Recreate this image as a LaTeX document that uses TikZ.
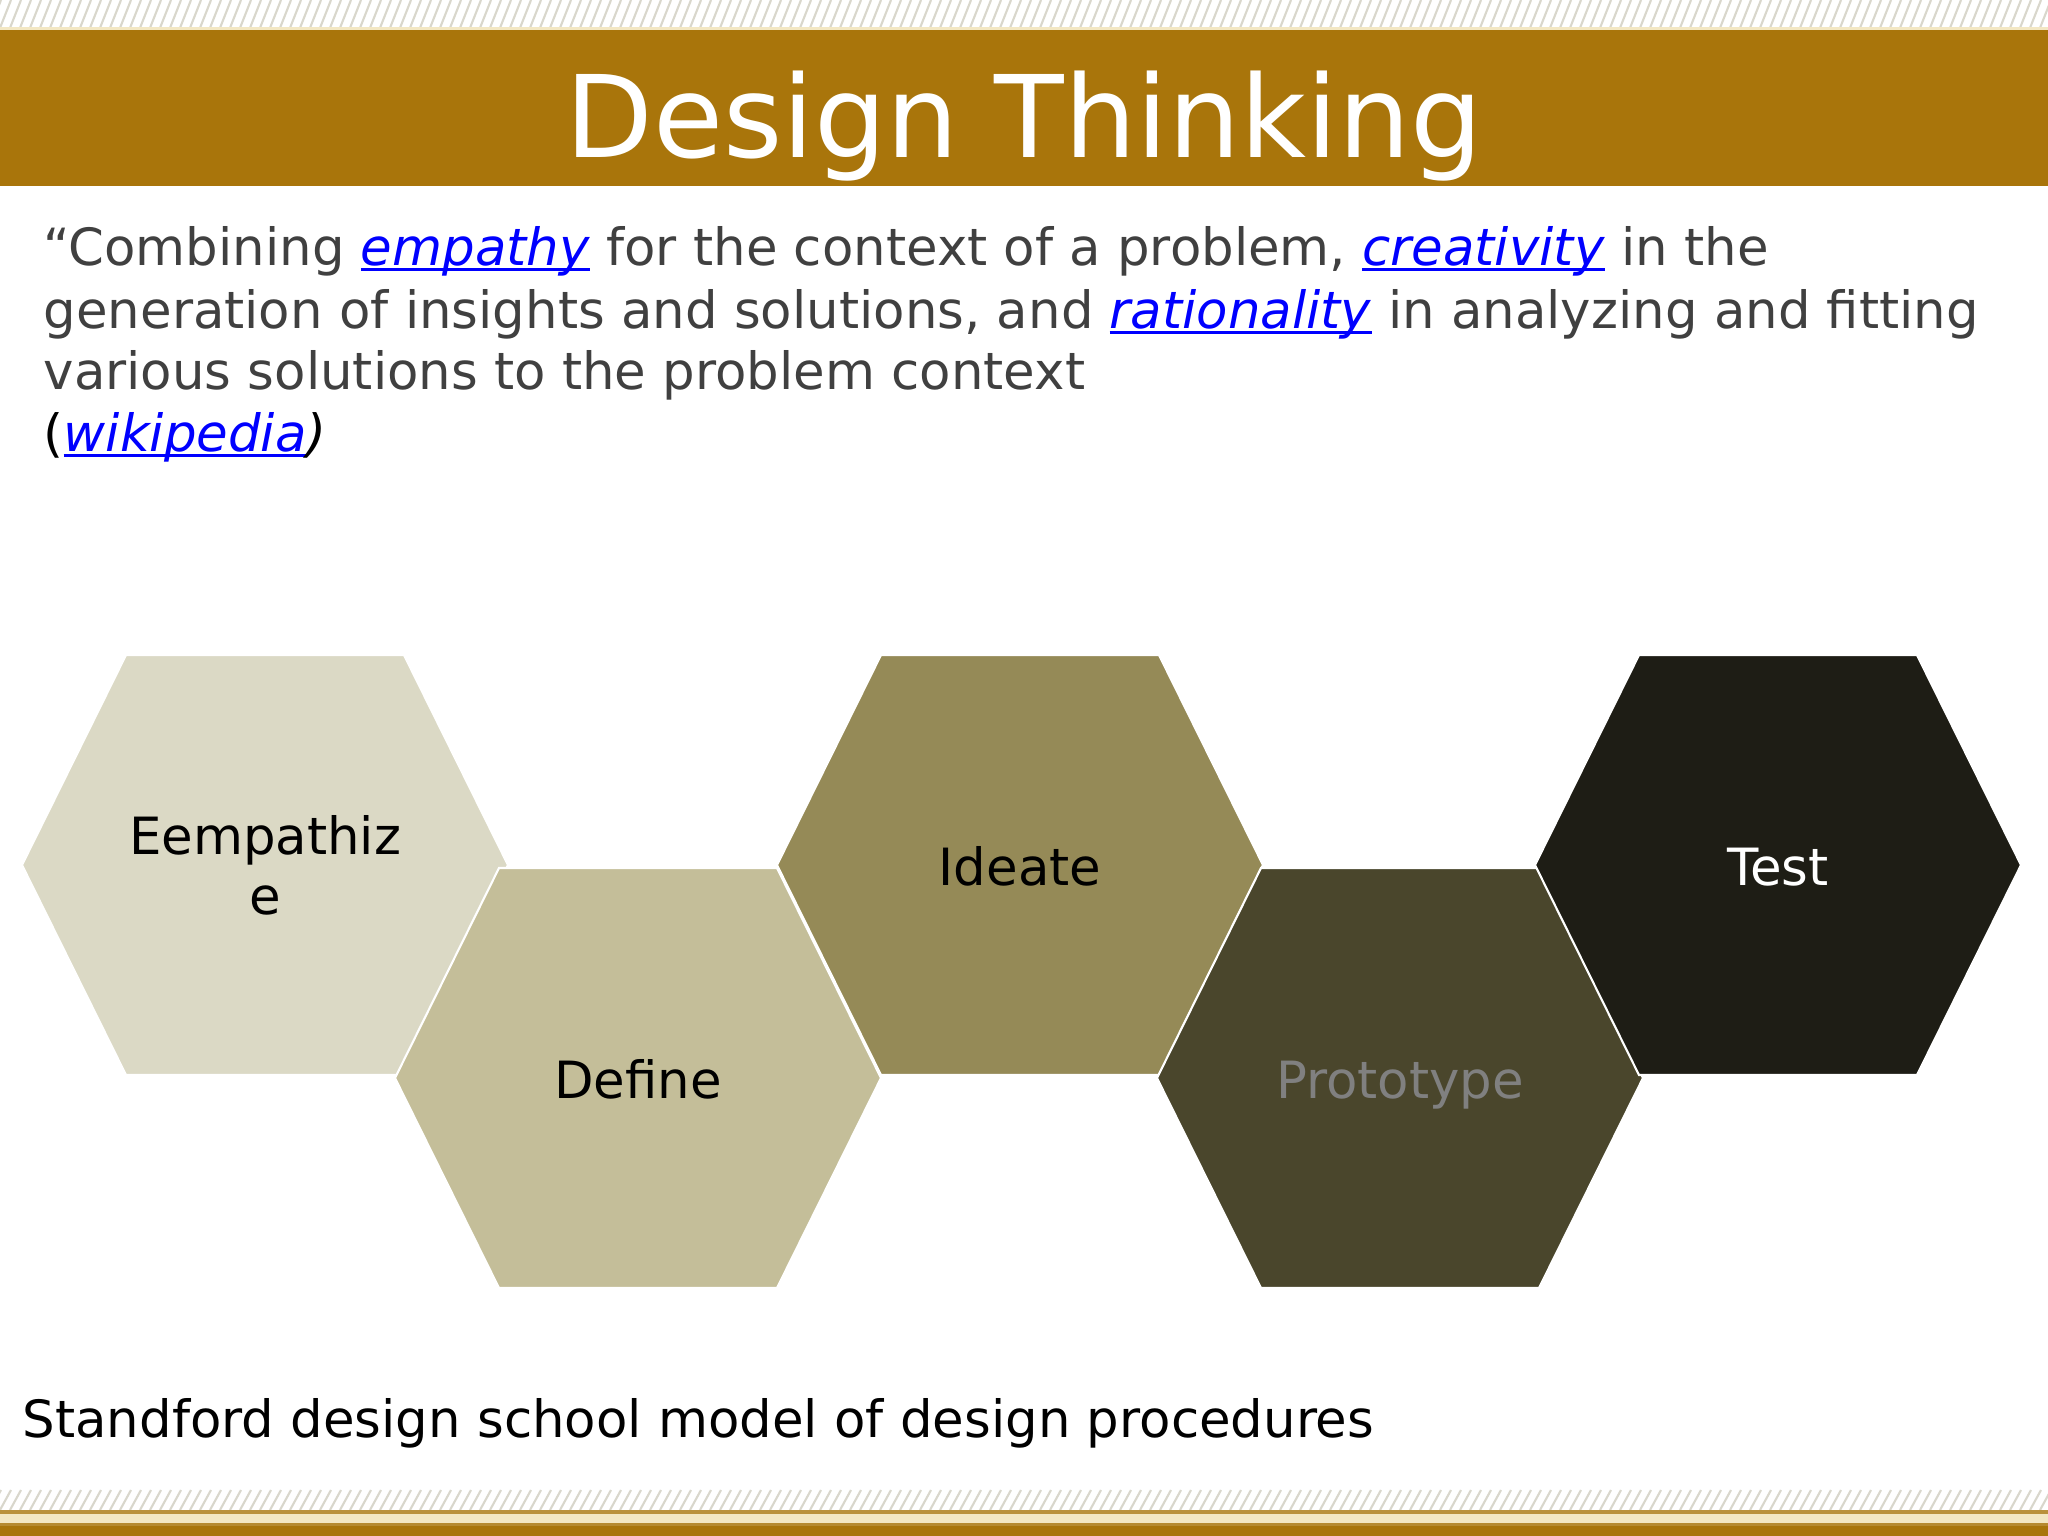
\documentclass[tikz,border=0pt]{standalone}
\usepackage{fontspec}
\setmainfont{DejaVu Sans}
\usetikzlibrary{positioning}

\definecolor{headbrown}{HTML}{A9750B}
\definecolor{hatchgray}{HTML}{D9D7CC}
\definecolor{creamline}{HTML}{F3E7C3}
\definecolor{bodygray}{HTML}{404040}
\definecolor{linkblue}{HTML}{0000FF}
\definecolor{empcol}{HTML}{DBD9C5}
\definecolor{defcol}{HTML}{C4BE99}
\definecolor{idecol}{HTML}{958A57}
\definecolor{procol}{HTML}{4A462C}
\definecolor{tstcol}{HTML}{1E1D15}

\newsavebox{\linkbox}
\newcommand{\wlink}[1]{\textcolor{linkblue}{\sbox{\linkbox}{\textit{#1}}\rlap{\rule[-1.8pt]{\wd\linkbox}{0.9pt}}\usebox{\linkbox}}}

\begin{document}
\begin{tikzpicture}[x=0.01cm, y=-0.01cm,
    hatchline/.style={draw=hatchgray, line width=0.6pt},
    hexa/.style={fill=#1, draw=white, line width=0.6pt},
    bodytext/.style={anchor=base west, inner sep=0pt, text=bodygray, font=\fontsize{14.6}{17}\selectfont},
    hexlabel/.style={anchor=base, inner sep=0pt, font=\fontsize{14.6}{16.8}\selectfont, align=center}]
    \useasboundingbox (0,0) rectangle (2048,1536);
    \fill[white] (0,0) rectangle (2048,1536);

    % top band
    \foreach \i in {-10,0,...,2060}
        \draw[hatchline] (\i,28) -- ++(11,-28);
    \fill[creamline] (0,27) rectangle (2048,30);
    \fill[headbrown] (0,30) rectangle (2048,186);
    \node[anchor=base, text=white, inner sep=0pt, font=\fontsize{32.4}{38}\selectfont] (title) at (1024,157) {Design Thinking};

    % quote
    \node[bodytext] (line1) at (43,265) {“Combining \wlink{empathy} for the context of a problem, \wlink{creativity} in the};
    \node[bodytext] (line2) at (43,328) {generation of insights and solutions, and \wlink{rationality} in analyzing and fitting};
    \node[bodytext] (line3) at (43,389) {various solutions to the problem context};
    \node[bodytext, text=black] (line4) at (43,451) {(\wlink{wikipedia}\textit{)}};

    % hexagons
    \coordinate (emp) at (265,865);
    \coordinate (def) at (638,1078);
    \coordinate (ide) at (1020,865);
    \coordinate (pro) at (1400,1078);
    \coordinate (tst) at (1778,865);
    \foreach \c/\col in {emp/empcol, def/defcol, ide/idecol, pro/procol, tst/tstcol}
        \filldraw[hexa=\col] (\c) ++(-243,0) -- ++(104,-210) -- ++(278,0) -- ++(104,210)
            -- ++(-104,210) -- ++(-278,0) -- cycle;
    \node[hexlabel, text=black] (emplabel) at (265,914) {Eempathiz\\e};
    \node[hexlabel, text=black] (deflabel) at (638,1098) {Define};
    \node[hexlabel, text=black] (idelabel) at (1020,885) {Ideate};
    \node[hexlabel, text=gray] (prolabel) at (1400,1098) {Prototype};
    \node[hexlabel, text=white] (tstlabel) at (1778,885) {Test};

    % caption
    \node[anchor=base west, inner sep=0pt, font=\fontsize{14.6}{17}\selectfont] (caption) at (22,1437) {Standford design school model of design procedures};

    % bottom band
    \foreach \i in {-10,0,...,2060}
        \draw[hatchline] (\i,1510) -- ++(11,-20);
    \fill[headbrown!80] (0,1510) rectangle (2048,1514);
    \fill[creamline] (0,1514) rectangle (2048,1523);
    \fill[headbrown!85] (0,1523) rectangle (2048,1526);
    \fill[headbrown] (0,1526) rectangle (2048,1536);
\end{tikzpicture}
\end{document}
